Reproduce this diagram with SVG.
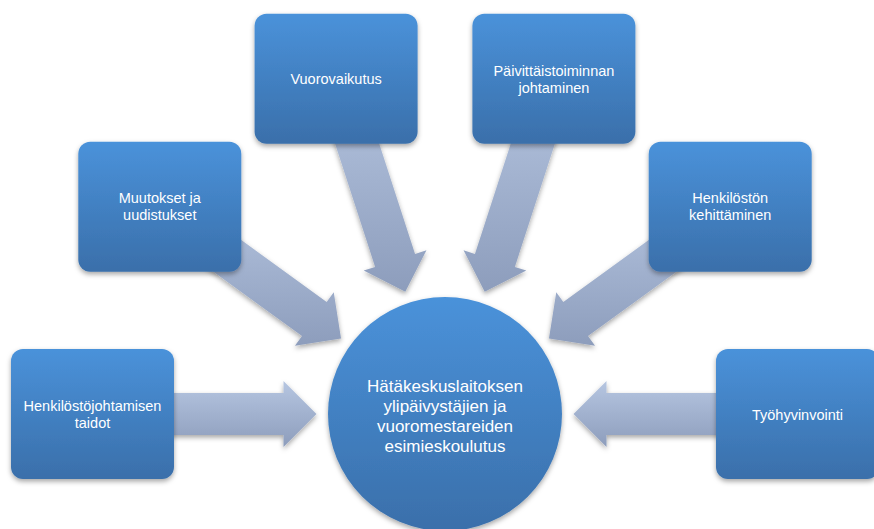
<svg xmlns="http://www.w3.org/2000/svg" width="874" height="529" viewBox="0 0 874 529">
  <defs>
    <linearGradient id="gBox" x1="0" y1="0" x2="0" y2="1">
      <stop offset="0" stop-color="#4A92DA"/>
      <stop offset="1" stop-color="#3A6FAA"/>
    </linearGradient>
    <linearGradient id="gArrow" x1="0" y1="0" x2="0" y2="1">
      <stop offset="0" stop-color="#B6C6E1"/>
      <stop offset="1" stop-color="#8D9DBC"/>
    </linearGradient>
    <filter id="shadow" x="-20%" y="-20%" width="140%" height="150%">
      <feDropShadow dx="0" dy="2.5" stdDeviation="2.5" flood-color="#000" flood-opacity="0.35"/>
    </filter>
  </defs>
  <style>
    .box { fill: url(#gBox); filter: url(#shadow); }
    .arrow { fill: url(#gArrow); filter: url(#shadow); }
    .lbl { font-family: "Liberation Sans", Arial, sans-serif; font-size: 14.5px; fill: #FFFFFF; text-anchor: middle; }
    .clbl { font-family: "Liberation Sans", Arial, sans-serif; font-size: 17px; fill: #FFFFFF; text-anchor: middle; }
  </style>
  <rect width="874" height="529" fill="#FFFFFF"/>

  <g id="connectors">
    <polygon class="arrow" points="92.5,393 283.5,393 283.5,381 316.5,414 283.5,447 283.5,435 92.5,435"/>
    <polygon class="arrow" points="172.16,189.81 326.68,302.08 333.74,292.37 341.04,338.46 294.94,345.77 302,336.06 147.48,223.79"/>
    <polygon class="arrow" points="356.04,72.26 415.06,253.91 426.47,250.2 405.29,291.79 363.71,270.6 375.12,266.89 316.1,85.24"/>
    <polygon class="arrow" points="573.9,85.24 514.88,266.89 526.29,270.6 484.71,291.79 463.53,250.2 474.94,253.91 533.96,72.26"/>
    <polygon class="arrow" points="742.52,223.79 588,336.06 595.06,345.77 548.96,338.46 556.26,292.37 563.32,302.08 717.84,189.81"/>
    <polygon class="arrow" points="797.5,435 606.5,435 606.5,447 573.5,414 606.5,381 606.5,393 797.5,393"/>
  </g>

  <g id="center">
    <circle class="box" cx="445" cy="414" r="117"/>
    <text class="clbl" x="445" y="391.5">Hätäkeskuslaitoksen</text>
    <text class="clbl" x="445" y="411.5">ylipäivystäjien ja</text>
    <text class="clbl" x="445" y="431.5">vuoromestareiden</text>
    <text class="clbl" x="445" y="451.5">esimieskoulutus</text>
  </g>

  <g id="n-henkilostojohtamisen">
    <rect class="box" x="11" y="349" width="163" height="130" rx="12"/>
    <text class="lbl" x="92.5" y="410.5">Henkilöstöjohtamisen</text>
    <text class="lbl" x="92.5" y="427.5">taidot</text>
  </g>

  <g id="n-muutokset">
    <rect class="box" x="78.3" y="141.8" width="163" height="130" rx="12"/>
    <text class="lbl" x="159.8" y="203">Muutokset ja</text>
    <text class="lbl" x="159.8" y="220">uudistukset</text>
  </g>

  <g id="n-vuorovaikutus">
    <rect class="box" x="254.6" y="13.75" width="163" height="130" rx="12"/>
    <text class="lbl" x="336.1" y="84">Vuorovaikutus</text>
  </g>

  <g id="n-paivittaistoiminnan">
    <rect class="box" x="472.4" y="13.75" width="163" height="130" rx="12"/>
    <text class="lbl" x="553.9" y="75.5">Päivittäistoiminnan</text>
    <text class="lbl" x="553.9" y="92.5">johtaminen</text>
  </g>

  <g id="n-henkiloston-kehittaminen">
    <rect class="box" x="648.7" y="141.8" width="163" height="130" rx="12"/>
    <text class="lbl" x="730.2" y="203">Henkilöstön</text>
    <text class="lbl" x="730.2" y="220">kehittäminen</text>
  </g>

  <g id="n-tyohyvinvointi">
    <rect class="box" x="716" y="349" width="163" height="130" rx="12"/>
    <text class="lbl" x="797.5" y="420">Työhyvinvointi</text>
  </g>
</svg>
